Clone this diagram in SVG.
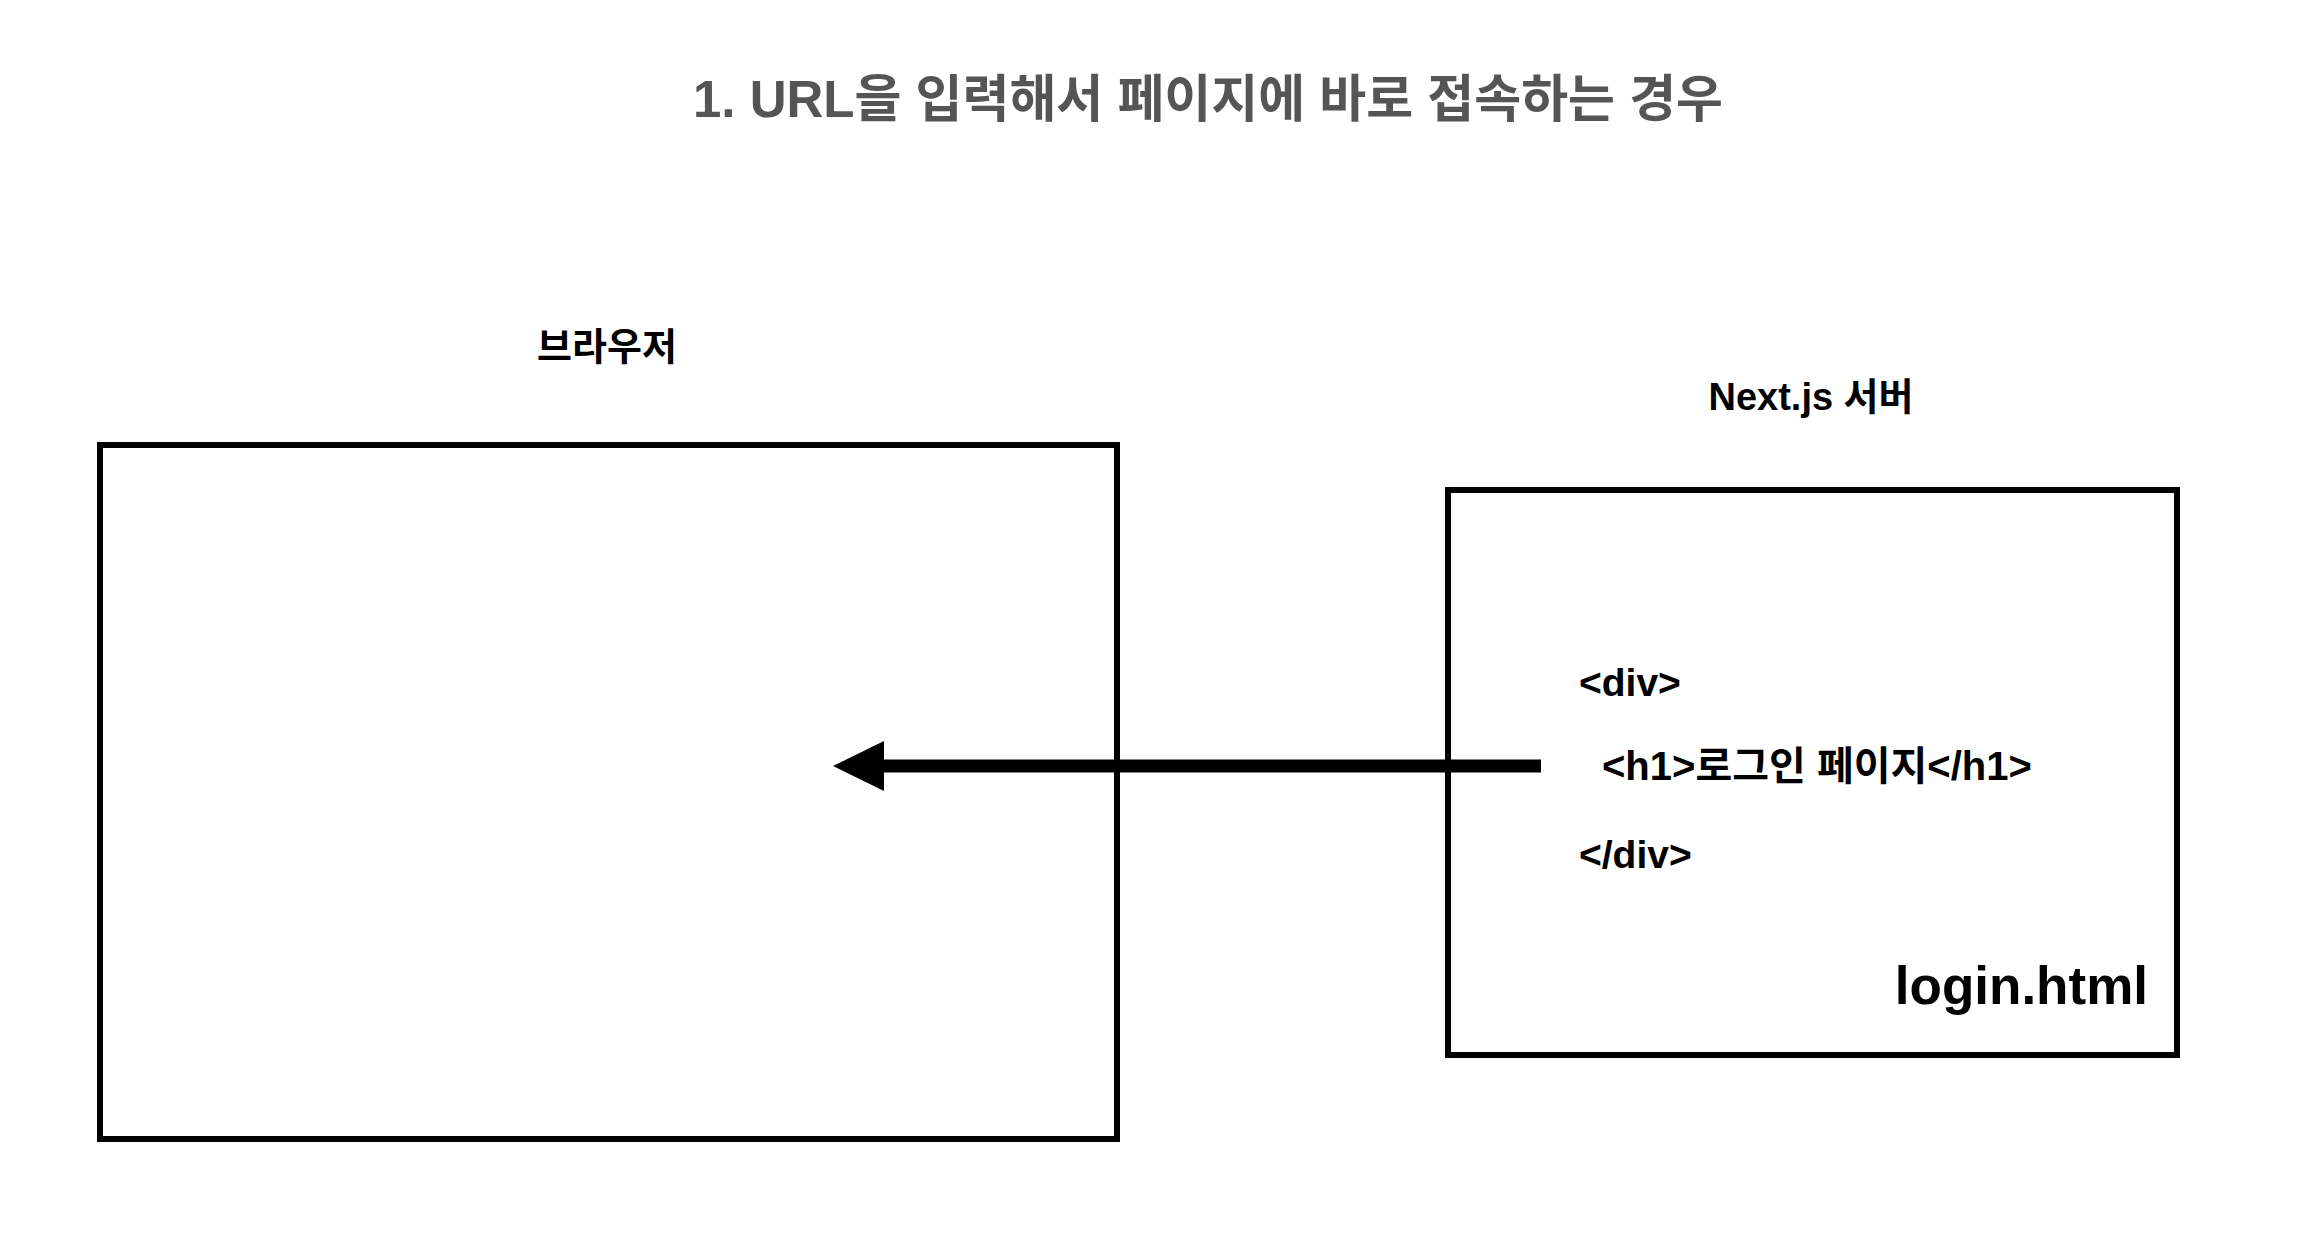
<svg xmlns="http://www.w3.org/2000/svg" width="2308" height="1246" viewBox="0 0 2308 1246">
<style>
.t{font-family:"Liberation Sans","Noto Sans CJK KR",sans-serif;font-weight:bold;fill:#000}
.box{fill:#fff;stroke:#000;stroke-width:6}
</style>
<rect width="2308" height="1246" fill="#fff"/>
<text class="t" x="1208" y="117" font-size="51" text-anchor="middle" style="fill:#555">1. URL을 입력해서 페이지에 바로 접속하는 경우</text>
<g id="browser">
<rect class="box" x="100" y="445" width="1017" height="694"/>
<text class="t" x="607" y="360" font-size="38" text-anchor="middle">브라우저</text>
</g>
<g id="server">
<rect class="box" x="1448" y="490" width="729" height="565"/>
<text class="t" x="1811" y="410" font-size="38" text-anchor="middle">Next.js 서버</text>
<text class="t" x="1579" y="696" font-size="39">&lt;div&gt;</text>
<text class="t" x="1602" y="780" font-size="40">&lt;h1&gt;로그인 페이지&lt;/h1&gt;</text>
<text class="t" x="1579" y="868" font-size="39">&lt;/div&gt;</text>
<text class="t" x="2148" y="1004" font-size="53" text-anchor="end">login.html</text>
</g>
<g id="connectors">
<line x1="1541" y1="766" x2="880" y2="766" stroke="#000" stroke-width="13"/>
<polygon points="833,766 884,741 884,791" fill="#000"/>
</g>
</svg>
